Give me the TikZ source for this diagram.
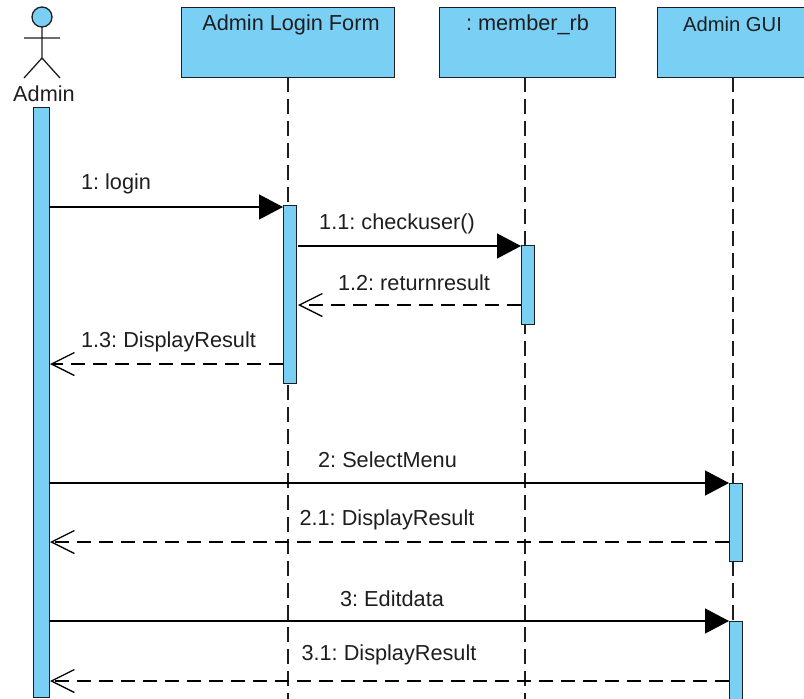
\documentclass[tikz,border=0pt]{standalone}
\usepackage{fontspec}
\setmainfont{Liberation Sans}
\usetikzlibrary{arrows.meta}
\definecolor{umlblue}{RGB}{122,207,245}
\definecolor{umlline}{RGB}{30,30,30}
\tikzset{
  x=1pt,y=-1pt,
  every node/.style={font=\fontsize{21.7}{24}\selectfont\frenchspacing,text=umlline,inner sep=0pt},
  lifebox/.style={draw=umlline,line width=1.3pt,fill=umlblue,anchor=north west},
  bar/.style={draw=umlline,line width=1.3pt,fill=umlblue,minimum width=13pt,anchor=north west},
  lifeline/.style={draw=umlline,line width=1.3pt,dash pattern=on 15pt off 7pt},
  call/.style={draw=black,line width=1.3pt,-{Triangle[length=24pt,width=25pt]}},
  reply/.style={draw=black,line width=1.3pt,dash pattern=on 14pt off 8pt,-{Straight Barb[length=23pt,width=23pt,line width=1.3pt]}},
}
\begin{document}
\begin{tikzpicture}
\useasboundingbox (0,0) rectangle (804,699);
\clip (0,0) rectangle (804,699);
% lifeline heads
\node[lifebox,minimum width=213pt,minimum height=70pt] (form) at (181,7) {};
\node[lifebox,minimum width=176pt,minimum height=70pt] (member) at (439,7) {};
\node[lifebox,minimum width=152pt,minimum height=70pt] (gui) at (657,7) {};
\node (formt) at (291,24.5) {Admin Login Form};
\node (membert) at (527.5,24.5) {: member\_rb};
\node[font=\fontsize{20.2}{24}\selectfont\frenchspacing] (guit) at (732.5,24.5) {Admin GUI};
% lifeline ends
\coordinate (formtop) at (288,77);  \coordinate (formend) at (288,699);
\coordinate (memtop) at (525,77);     \coordinate (memend) at (525,699);
\coordinate (guitop) at (733,77);     \coordinate (guiend) at (733,699);
\draw[lifeline] (formtop) -- (formend);
\draw[lifeline] (memtop) -- (memend);
\draw[lifeline] (guitop) -- (guiend);
% actor
\draw[draw=umlline,line width=1.3pt,fill=umlblue] (42,17) circle (10);
\draw[draw=umlline,line width=1.3pt] (42,27) -- (42,58) (24,38) -- (60,38) (24,78) -- (42,58) -- (60,78);
\node (admint) at (44,94) {Admin};
% activation bars
\node[bar,minimum width=16pt,minimum height=590pt] (abar) at (33,107) {};
\node[bar,minimum height=178pt] (fbar) at (283,205) {};
\node[bar,minimum height=79pt] (mbar) at (521,245) {};
\node[bar,minimum height=78pt] (gbar1) at (729,483) {};
\node[bar,minimum height=90pt] (gbar2) at (729,621) {};
% messages
\coordinate (m1s) at (49,207);   \coordinate (m1e) at (283,207);
\coordinate (m11s) at (298,246); \coordinate (m11e) at (521,246);
\coordinate (m12s) at (521,305); \coordinate (m12e) at (298,305);
\coordinate (m13s) at (283,364); \coordinate (m13e) at (50,364);
\coordinate (m2s) at (49,483);   \coordinate (m2e) at (729,483);
\coordinate (m21s) at (729,542); \coordinate (m21e) at (50,542);
\coordinate (m3s) at (49,621);   \coordinate (m3e) at (729,621);
\coordinate (m31s) at (729,681); \coordinate (m31e) at (50,681);
\draw[call] (m1s) -- (m1e);
\draw[call] (m11s) -- (m11e);
\draw[reply] (m12s) -- (m12e);
\draw[reply] (m13s) -- (m13e);
\draw[call] (m2s) -- (m2e);
\draw[reply] (m21s) -- (m21e);
\draw[call] (m3s) -- (m3e);
\draw[reply] (m31s) -- (m31e);
% labels
\node (l1) at (116,184) {1: login};
\node (l11) at (397,223.5) {1.1: checkuser()};
\node (l12) at (414,283) {1.2: returnresult};
\node (l13) at (168.5,342) {1.3: DisplayResult};
\node (l2) at (387.5,460) {2: SelectMenu};
\node (l21) at (387,520) {2.1: DisplayResult};
\node (l3) at (392,599) {3: Editdata};
\node (l31) at (389,655) {3.1: DisplayResult};
\end{tikzpicture}
\end{document}
